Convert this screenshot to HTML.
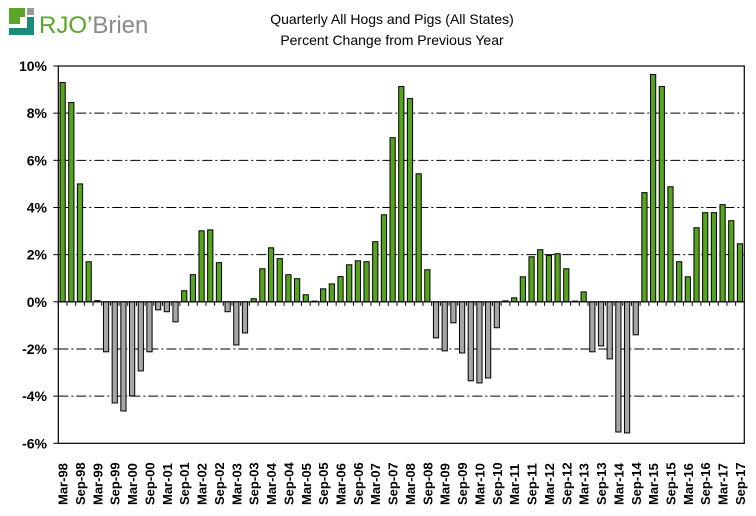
<!DOCTYPE html>
<html><head><meta charset="utf-8"><style>
body{margin:0;background:#fff;}
svg{display:block;font-family:"Liberation Sans",Arial,sans-serif;}
</style></head><body>
<svg id="chart" width="756" height="516">
  <g>
    <rect x="9" y="8" width="16" height="16" fill="#5aa52a"/>
    <rect x="27" y="8" width="7" height="7" fill="#9a9a9a"/>
    <polygon points="9,35 34,35 34,17 27,17 27,28 9,28" fill="#1e8a78"/>
    <rect x="20" y="17" width="5" height="7" fill="#fff"/>
    <text x="39" y="33" font-size="24"><tspan fill="#5aa52a">RJO’</tspan><tspan fill="#8a8a8a">Brien</tspan></text>
  </g>
  <text x="392" y="24" font-size="14" text-anchor="middle">Quarterly All Hogs and Pigs (All States)</text>
  <text x="392" y="45" font-size="14" text-anchor="middle">Percent Change from Previous Year</text>
  <g id="grid"></g><g id="bars"></g><g id="axes"></g>
</svg>
<script>
const quarters = (function(){const a=[];const m=['Mar','Jun','Sep','Dec'];for(let y=1998;y<=2017;y++)for(let q=0;q<4;q++){if(y===2017&&q===3)break;a.push(m[q]+'-'+String(y%100).padStart(2,'0'));}return a;})();
const values = [9.3,8.45,5.0,1.7,0.05,-2.12,-4.29,-4.63,-3.99,-2.93,-2.12,-0.34,-0.42,-0.85,0.47,1.15,3.01,3.05,1.66,-0.42,-1.83,-1.32,0.13,1.4,2.29,1.83,1.15,0.98,0.3,0.03,0.55,0.76,1.07,1.57,1.74,1.7,2.55,3.69,6.96,9.13,8.62,5.43,1.36,-1.53,-2.08,-0.89,-2.17,-3.35,-3.44,-3.23,-1.1,0.04,0.17,1.06,1.91,2.21,1.96,2.04,1.4,0.03,0.42,-2.12,-1.87,-2.42,-5.52,-5.56,-1.4,4.63,9.64,9.13,4.88,1.7,1.06,3.14,3.78,3.78,4.12,3.44,2.46];
const yTicks = [10,8,6,4,2,0,-2,-4,-6];
const ns='http://www.w3.org/2000/svg';
const L=58.3,R=744.3,T=66,B=443.3,yMin=-6,yMax=10;
const y=v=>T+(yMax-v)/(yMax-yMin)*(B-T);
const slot=(R-L)/values.length;
const x=i=>L+i*slot;
function mk(tag,at,parent){const e=document.createElementNS(ns,tag);for(const k in at)e.setAttribute(k,at[k]);document.getElementById(parent).appendChild(e);return e;}
yTicks.forEach(t=>{
  if(t!==yMax&&t!==yMin&&t!==0){const g=mk('line',{x1:L,x2:R,y1:y(t),y2:y(t),stroke:'#000','stroke-width':1,'stroke-dasharray':'10,3,2,3'},'grid');
  
  }
  const lb=mk('text',{x:47,y:y(t)+5,'font-size':14,'font-weight':'bold','text-anchor':'end'},'axes');
  lb.textContent=t+'%';
  
  
  mk('line',{x1:L-5,x2:L,y1:y(t),y2:y(t),stroke:'#000'},'axes');
});
values.forEach((v,i)=>{
  const y0=y(0),yv=y(v);
  const r=mk('rect',{x:x(i)+slot*0.2,width:slot*0.6,y:Math.min(y0,yv),height:Math.max(Math.abs(yv-y0),0.5),fill:v>=0?'#56a41e':'#a6a6a6',stroke:'#000','stroke-width':1},'bars');
  
  
  mk('line',{x1:x(i),x2:x(i),y1:y0,y2:y0+4,stroke:'#000'},'axes');
  if(i%2===0){const cx=x(i)+slot/2+5;const tx=mk('text',{x:cx,y:505,'font-size':13,'font-weight':'bold',transform:'rotate(-90 '+cx+' 505)'},'axes');
  tx.textContent=quarters[i];
  
  }
});
const ax=mk('line',{x1:L,x2:R,y1:y(0),y2:y(0),stroke:'#000','stroke-width':1.2},'axes');


const fr=mk('rect',{x:L,y:T,width:R-L,height:B-T,fill:'none',stroke:'#000','stroke-width':1.2},'axes');


</script>
</body></html>
